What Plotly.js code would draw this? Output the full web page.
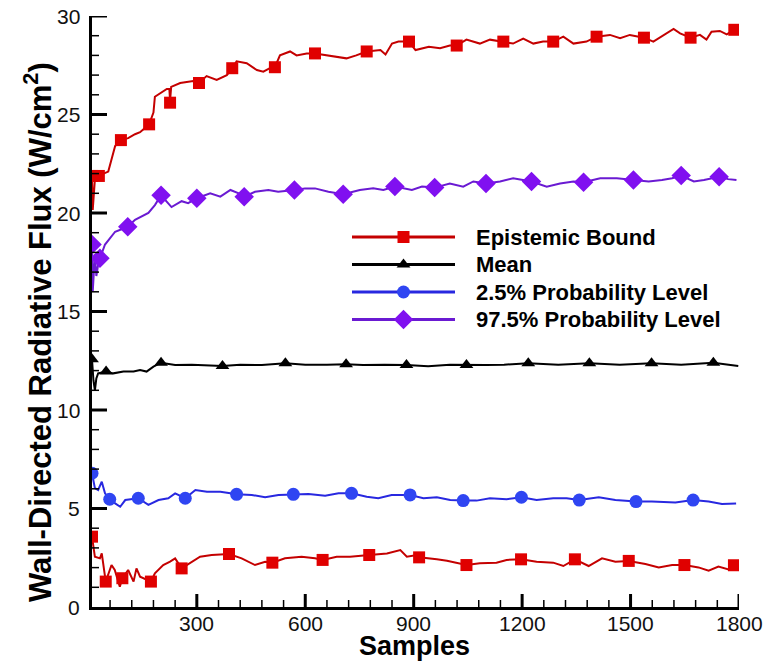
<!DOCTYPE html>
<html>
<head>
<meta charset="utf-8">
<script src="https://cdn.plot.ly/plotly-3.0.1.min.js"></script>
<style>html,body{margin:0;padding:0;background:#fff;}#chart{width:764px;height:664px;}</style>
</head>
<body>
<div id="chart"></div>
<script>
// ---- Data ----
const upperX = [10,12,18,29,55,74,90,110,129,143,168,180,184,207,217,224,226,229,254,290,306,327,355,383,398,410,438,466,484,502,516,530,558,576,604,627,659,696,714,741,770,808,822,840,858,887,905,942,973,1000,1019,1046,1083,1111,1148,1175,1203,1231,1258,1286,1314,1342,1378,1406,1443,1471,1498,1537,1563,1591,1619,1637,1666,1692,1710,1724,1747,1766,1787,1800];
const upperY = [21.88,20.15,21.7,21.9,22.1,23.4,23.7,23.8,24.0,24.1,24.5,25.1,25.9,26.2,26.3,26.3,25.7,26.4,26.6,26.7,26.6,26.95,26.75,27.0,27.35,27.7,27.6,27.26,27.17,27.35,27.4,28.0,28.2,28.0,28.1,28.1,28.0,27.9,27.85,28.0,28.2,28.27,28.05,28.6,28.7,28.7,28.27,28.44,28.36,28.5,28.5,28.8,28.6,28.8,28.7,28.6,28.85,28.6,28.7,28.7,28.95,28.6,28.7,28.95,29.04,28.87,29.04,28.9,28.7,29.04,29.34,29.12,28.9,29.04,28.8,29.2,29.24,29.07,29.3,29.3];
const upperMarkX = [10,29,90,168,226,306,398,516,627,770,887,1019,1148,1286,1406,1537,1666,1787];
const upperMarkY = [21.88,21.88,23.7,24.5,25.6,26.6,27.35,27.4,28.1,28.2,28.7,28.5,28.7,28.7,28.95,28.9,28.9,29.3];

const p975X = [10,12,18,22,28,32,46,74,92,109,129,146,166,184,201,230,258,276,300,337,365,393,416,431,461,498,525,570,599,627,664,705,751,788,816,848,895,923,958,1000,1037,1065,1100,1139,1175,1226,1268,1305,1342,1370,1416,1462,1508,1550,1587,1615,1640,1675,1703,1745,1770,1793];
const p975Y = [18.4,16.0,17.9,16.8,17.5,17.7,18.4,19.05,19.2,19.3,19.65,19.8,20.0,20.4,20.9,20.3,20.6,20.5,20.75,21.0,20.83,21.17,21.0,20.83,21.08,21.17,21.08,21.17,21.25,21.25,21.08,20.95,21.17,21.25,21.17,21.34,21.17,21.34,21.29,21.5,21.34,21.6,21.5,21.6,21.76,21.6,21.34,21.5,21.6,21.56,21.76,21.76,21.67,21.6,21.67,21.76,21.9,21.6,21.67,21.84,21.72,21.67];
const p975MarkX = [10,32,109,201,300,431,570,705,848,958,1100,1226,1370,1508,1640,1745];
const p975MarkY = [18.4,17.7,19.3,20.9,20.75,20.83,21.17,20.95,21.34,21.29,21.5,21.6,21.56,21.67,21.9,21.84];

const meanX = [10,14,18,22,27,49,69,97,125,143,161,180,201,240,286,330,371,420,480,545,600,660,713,760,820,880,940,1000,1046,1100,1150,1217,1300,1386,1470,1558,1640,1729,1798];
const meanY = [12.57,11.5,11.0,11.6,11.86,11.95,11.86,11.95,11.95,12.03,11.95,12.2,12.4,12.28,12.3,12.25,12.23,12.3,12.28,12.37,12.3,12.3,12.32,12.28,12.3,12.28,12.22,12.3,12.28,12.28,12.3,12.37,12.3,12.37,12.3,12.37,12.3,12.4,12.23];
const meanMarkX = [10,49,201,371,545,713,880,1046,1217,1386,1558,1729];
const meanMarkY = [12.57,11.95,12.4,12.23,12.37,12.32,12.28,12.28,12.37,12.37,12.37,12.4];

const p25X = [10,18,27,37,46,59,74,88,102,138,166,194,221,240,268,296,328,365,393,410,452,489,526,567,609,655,692,728,770,802,839,890,927,964,1001,1037,1074,1111,1157,1198,1240,1286,1323,1358,1412,1458,1515,1559,1624,1673,1716,1753,1792];
const p25Y = [6.79,6.03,5.94,6.36,5.77,5.47,5.26,5.09,5.43,5.52,5.18,5.43,5.52,5.77,5.52,5.94,5.85,5.85,5.77,5.72,5.69,5.57,5.69,5.72,5.74,5.65,5.77,5.77,5.6,5.52,5.69,5.69,5.52,5.57,5.43,5.4,5.4,5.52,5.47,5.57,5.43,5.52,5.52,5.43,5.57,5.43,5.35,5.35,5.3,5.43,5.35,5.23,5.26];
const p25MarkX = [10,59,138,268,410,567,728,890,1037,1198,1358,1515,1673];
const p25MarkY = [6.79,5.47,5.52,5.52,5.72,5.72,5.77,5.69,5.4,5.57,5.43,5.35,5.43];

const lowerX = [10,18,32,37,48,64,73,87,94,110,125,133,143,173,184,207,226,240,258,286,309,341,389,424,461,489,509,544,590,627,648,687,724,777,826,863,881,909,915,964,992,1046,1083,1129,1157,1197,1240,1286,1314,1346,1384,1421,1458,1495,1541,1578,1615,1649,1688,1716,1743,1771,1786,1795];
const lowerY = [3.57,2.55,2.47,2.72,1.29,2.13,1.88,1.03,1.46,1.88,1.29,1.96,1.54,1.29,1.71,2.13,2.3,2.47,1.96,2.3,2.55,2.64,2.69,2.47,2.13,2.3,2.25,2.47,2.55,2.47,2.39,2.55,2.55,2.64,2.72,2.89,2.55,2.64,2.52,2.42,2.35,2.13,2.22,2.25,2.39,2.42,2.3,2.25,2.08,2.42,2.08,2.47,2.3,2.34,2.18,2.01,2.13,2.13,2.01,1.84,2.05,1.91,2.12,2.1];
const lowerMarkX = [10,48,94,173,258,389,509,648,777,915,1046,1197,1346,1495,1649,1786];
const lowerMarkY = [3.57,1.29,1.46,1.29,1.96,2.69,2.25,2.39,2.64,2.52,2.13,2.42,2.42,2.34,2.13,2.12];

// Axis ticks and labels
const xTickVals = [300,600,900,1200,1500,1800];
const xTickText = ['300','600','900','1200','1500','1800'];
const yTickVals = [0,5,10,15,20,25,30];
const yTickText = ['0','5','10','15','20','25','30'];
const xMinorStep = 60;
const yMinorStep = 1;

const legendLabels = ['Epistemic Bound','Mean','2.5% Probability Level','97.5% Probability Level'];

const xTitle = 'Samples';
const yTitle = 'Wall-Directed Radiative Flux (W/cm<sup>2</sup>)';

// ---- Geometry / styles ----
const W = 764, H = 664;
const L = 92, R = 739, T = 16, B = 607;
const XMIN = 10, XMAX = 1800, YMIN = 0, YMAX = 30;
const pw = R - L, ph = B - T;
const px2x = p => (p - L) / pw;              // pixel -> paper
const py2y = p => (B - p) / ph;
const px2d = p => XMIN + (p - L) / pw * (XMAX - XMIN);   // pixel -> data (legend placement)
const py2d = p => YMIN + (B - p) / ph * (YMAX - YMIN);

const RED_L = '#c40000', RED_M = '#e00000';
const BLK = '#000000';
const BLU_L = '#2828e0', BLU_M = '#2f45f2';
const PUR_L = '#6a1ad2', PUR_M = '#8010f0';
const FONT = 'Liberation Sans, Arial, sans-serif';

const series = [
  {lx: upperX, ly: upperY, mx: upperMarkX, my: upperMarkY, lc: RED_L, mc: RED_M, sym: 'square', ms: 12},
  {lx: lowerX, ly: lowerY, mx: lowerMarkX, my: lowerMarkY, lc: RED_L, mc: RED_M, sym: 'square', ms: 12},
  {lx: meanX, ly: meanY, mx: meanMarkX, my: meanMarkY, lc: BLK, mc: BLK, sym: 'triangle-up', ms: 12},
  {lx: p25X, ly: p25Y, mx: p25MarkX, my: p25MarkY, lc: BLU_L, mc: BLU_M, sym: 'circle', ms: 13},
  {lx: p975X, ly: p975Y, mx: p975MarkX, my: p975MarkY, lc: PUR_L, mc: PUR_M, sym: 'diamond', ms: 15}
];

const traces = [];
series.forEach(s => {
  traces.push({x: s.lx, y: s.ly, mode: 'lines', line: {color: s.lc, width: 2}, showlegend: false, hoverinfo: 'skip'});
  traces.push({x: s.mx, y: s.my, mode: 'markers', marker: {color: s.mc, symbol: s.sym, size: s.ms, line: {width: 0}}, showlegend: false, hoverinfo: 'skip'});
});

// Legend samples (drawn inside the plot, placed via pixel->data conversion)
const legendStyles = [
  {lc: RED_L, mc: RED_M, sym: 'square', ms: 12},
  {lc: BLK, mc: BLK, sym: 'triangle-up', ms: 12},
  {lc: BLU_L, mc: BLU_M, sym: 'circle', ms: 13},
  {lc: PUR_L, mc: PUR_M, sym: 'diamond', ms: 15}
];
const legendRowPx = [237, 264.5, 292, 319.5];
legendStyles.forEach((st, i) => {
  const yy = py2d(legendRowPx[i]);
  traces.push({x: [px2d(352), px2d(455)], y: [yy, yy], mode: 'lines', line: {color: st.lc, width: 3}, showlegend: false, hoverinfo: 'skip'});
  traces.push({x: [px2d(403.5)], y: [yy], mode: 'markers', marker: {color: st.mc, symbol: st.sym, size: st.ms}, showlegend: false, hoverinfo: 'skip'});
});

const annotations = legendLabels.map((t, i) => ({
  text: '<b>' + t + '</b>', xref: 'paper', yref: 'paper', x: px2x(474), y: py2y(legendRowPx[i]),
  xanchor: 'left', yanchor: 'middle', showarrow: false,
  font: {family: FONT, size: 22, color: '#000'}
}));
// tick labels
xTickVals.forEach((v, i) => annotations.push({
  text: xTickText[i], xref: 'x', yref: 'paper', x: v, y: py2y(623),
  xanchor: 'center', yanchor: 'middle', showarrow: false,
  font: {family: FONT, size: 21, color: '#111'}
}));
yTickVals.forEach((v, i) => annotations.push({
  text: yTickText[i], xref: 'paper', yref: 'y', x: px2x(82), y: v,
  xanchor: 'right', yanchor: 'middle', showarrow: false,
  font: {family: FONT, size: 21, color: '#111'}
}));
annotations.push({
  text: '<b>' + yTitle + '</b>', xref: 'paper', yref: 'paper', x: px2x(38), y: py2y(332),
  xanchor: 'center', yanchor: 'middle', textangle: -90, showarrow: false,
  font: {family: FONT, size: 31, color: '#000'}
});
annotations.push({
  text: '<b>' + xTitle + '</b>', xref: 'paper', yref: 'paper', x: px2x(414), y: py2y(646),
  xanchor: 'center', yanchor: 'middle', showarrow: false,
  font: {family: FONT, size: 27, color: '#000'}
});

// Inward tick marks as shapes (major from tick arrays, minor by step)
const shapes = [];
const tickLine = (w) => ({color: '#000', width: w});
xTickVals.forEach(v => shapes.push({type: 'line', xref: 'x', yref: 'paper', x0: v, x1: v, y0: 0, y1: 13 / ph, line: tickLine(3), layer: 'above'}));
for (let v = xMinorStep; v < XMAX; v += xMinorStep) {
  if (xTickVals.indexOf(v) === -1) shapes.push({type: 'line', xref: 'x', yref: 'paper', x0: v, x1: v, y0: 0, y1: 7 / ph, line: tickLine(1.5), layer: 'above'});
}
yTickVals.forEach(v => { if (v > YMIN) shapes.push({type: 'line', xref: 'paper', yref: 'y', x0: 0, x1: 15 / pw, y0: v, y1: v, line: tickLine(3), layer: 'above'}); });
for (let v = YMIN + yMinorStep; v < YMAX; v += yMinorStep) {
  if (yTickVals.indexOf(v) === -1) shapes.push({type: 'line', xref: 'paper', yref: 'y', x0: 0, x1: 7 / pw, y0: v, y1: v, line: tickLine(1.5), layer: 'above'});
}

const layout = {
  width: W, height: H,
  margin: {l: L, r: W - R, t: T, b: H - B, pad: 0},
  showlegend: false,
  font: {family: FONT, color: '#111'},
  xaxis: {
    range: [XMIN, XMAX], showgrid: false, zeroline: false,
    showline: true, linecolor: '#000', linewidth: 3,
    ticks: '', showticklabels: false
  },
  yaxis: {
    range: [YMIN, YMAX], showgrid: false, zeroline: false,
    showline: true, linecolor: '#000', linewidth: 3,
    ticks: '', showticklabels: false
  },
  shapes: shapes,
  annotations: annotations
};

Plotly.newPlot('chart', traces, layout, {displayModeBar: false});
</script>
</body>
</html>
